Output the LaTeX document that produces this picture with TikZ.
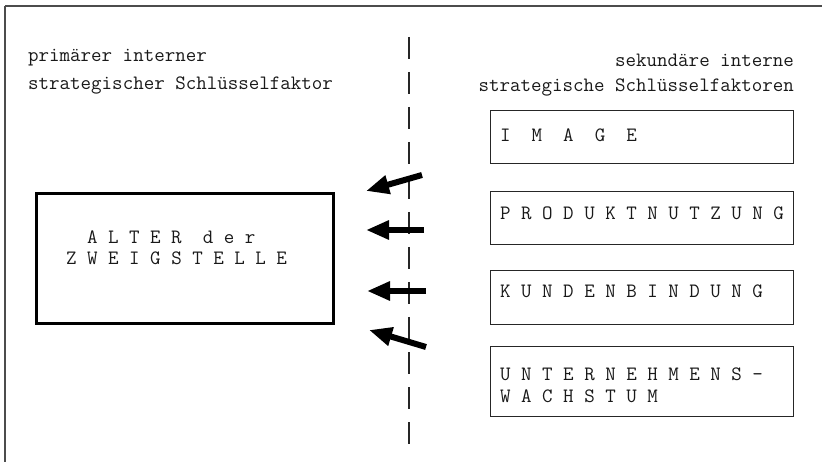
\documentclass[tikz,border=0pt]{standalone}
\usepackage{fontspec}
\usetikzlibrary{arrows.meta}
\begin{document}
\begin{tikzpicture}[x=1pt,y=-1pt,
  txt/.style={font=\ttfamily\fontsize{20.4}{24}\selectfont, inner sep=0pt, anchor=base west, text=black!90},
  txtr/.style={txt, anchor=base east},
  sbox/.style={draw=black!85, line width=1.3pt, inner sep=0pt, anchor=north west},
  bbox/.style={draw=black, line width=3pt, inner sep=0pt, anchor=north west},
  frame/.style={draw=black!70, line width=1.2pt},
  dashline/.style={draw=black!85, line width=1.4pt, dash pattern=on 22pt off 13pt},
  farrow/.style={draw=black, line width=6pt, -{Triangle[length=23pt,width=18pt]}}
]
\useasboundingbox (0,0) rectangle (822,462);
% frame
\draw[frame] (5,6) -- (822,6);
\draw[frame] (5,6) -- (5,462);
% dashed divider
\coordinate (dtop) at (409,37);
\coordinate (dbot) at (409,447);
\draw[dashline] (dtop) -- (dbot);
% headings
\node[txt] (h1) at (28,62) {primärer interner};
\node[txt] (h2) at (28,90) {strategischer Schlüsselfaktor};
\node[txtr] (h3) at (794,67) {sekundäre interne};
\node[txtr] (h4) at (794,92) {strategische Schlüsselfaktoren};
% primary box
\node[bbox, minimum width=297pt, minimum height=130pt] (pbox) at (35,192) {};
\node[txt] (p1) at (87,243.5) {A L T E R\ \ d e r};
\node[txt] (p2) at (66,265) {Z W E I G S T E L L E};
% secondary boxes
\node[sbox, minimum width=303pt, minimum height=53pt] (s1) at (490,110) {};
\node[sbox, minimum width=303pt, minimum height=53pt] (s2) at (490,191) {};
\node[sbox, minimum width=303pt, minimum height=54pt] (s3) at (490,270) {};
\node[sbox, minimum width=303pt, minimum height=70pt] (s4) at (490,346) {};
\node[txt] (t1) at (500,142) {I\ \ M\ \ A\ \ G\ \ E};
\node[txt] (t2) at (500,220) {P R O D U K T N U T Z U N G};
\node[txt] (t3) at (500,298) {K U N D E N B I N D U N G};
\node[txt] (t4) at (500,381) {U N T E R N E H M E N S -};
\node[txt] (t5) at (500,402) {W A C H S T U M};
% arrows
\coordinate (a1s) at (422,175); \coordinate (a1e) at (366,191);
\coordinate (a2s) at (424,230); \coordinate (a2e) at (366,230);
\coordinate (a3s) at (426,291); \coordinate (a3e) at (367,291);
\coordinate (a4s) at (426,347); \coordinate (a4e) at (369,330);
\draw[farrow] (a1s) -- (a1e);
\draw[farrow] (a2s) -- (a2e);
\draw[farrow] (a3s) -- (a3e);
\draw[farrow] (a4s) -- (a4e);
\end{tikzpicture}
\end{document}
